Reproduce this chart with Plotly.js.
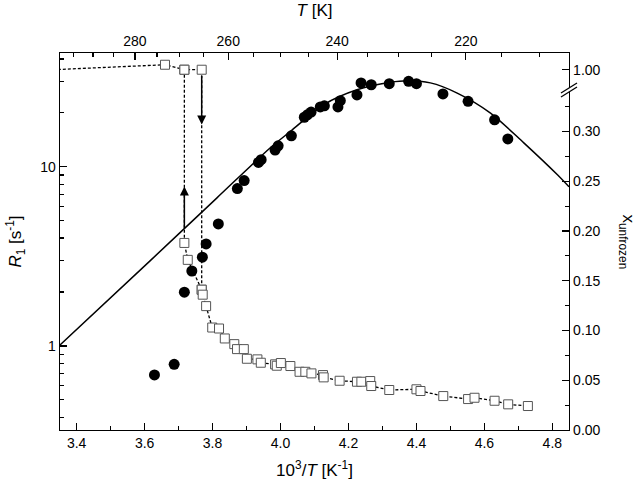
<!DOCTYPE html>
<html>
<head>
<meta charset="utf-8">
<script src="https://cdn.plot.ly/plotly-3.0.1.min.js"></script>
<style>html,body{margin:0;padding:0;background:#fff;}#chart{width:640px;height:489px;}</style>
</head>
<body>
<div id="chart"></div>
<script>
// ---- data: R1 relaxation rates (filled circles, left log axis) ----
const circleX = [3.629, 3.687, 3.717, 3.739, 3.770, 3.781, 3.817, 3.873, 3.893, 3.935, 3.943,
  3.984, 3.993, 4.032, 4.070, 4.079, 4.090, 4.117, 4.129, 4.169, 4.176, 4.225, 4.237,
  4.267, 4.320, 4.377, 4.400, 4.478, 4.552, 4.630, 4.669];
const circleR = [0.689, 0.790, 1.995, 2.62, 3.13, 3.71, 4.80, 7.56, 8.38, 10.57, 10.95,
  12.4, 13.1, 14.9, 18.9, 19.5, 20.2, 21.6, 21.9, 21.6, 23.4, 25.2, 29.4,
  28.7, 29.1, 30.0, 29.1, 25.5, 23.2, 18.3, 14.3];

// ---- fit curve (solid line, left axis) ----
const fitX = [3.351, 3.616, 3.813, 3.970, 4.029, 4.127, 4.225, 4.323, 4.373, 4.441, 4.520, 4.618, 4.716, 4.815, 4.849];
const fitR = [1.013, 2.985, 6.71, 12.77, 15.75, 22.2, 26.9, 29.6, 30.2, 29.4, 25.8, 19.95, 13.6, 9.02, 7.73];

// ---- unfrozen fraction (open squares, right axis) ----
// cooling branch: unfrozen until supercooled, then freezes
const coolX = [3.330, 3.660, 3.717, 3.768, 3.768];
const coolV = [1.000, 1.005, 1.000, 1.000, 0.141];
// heating branch: melts back to fully unfrozen
const heatX = [3.717, 3.717, 3.727, 3.768, 3.771, 3.781, 3.799, 3.819, 3.836, 3.864, 3.872, 3.892,
  3.901, 3.932, 3.942, 3.984, 3.989, 4.001, 4.029, 4.056, 4.073, 4.091, 4.125, 4.127, 4.174,
  4.225, 4.238, 4.264, 4.267, 4.320, 4.400, 4.412, 4.479, 4.552, 4.571, 4.630, 4.670, 4.728];
const heatV = [1.000, 0.188, 0.171, 0.141, 0.136, 0.1245, 0.103, 0.102, 0.092, 0.0863, 0.0813, 0.0813,
  0.0716, 0.071, 0.0676, 0.066, 0.0646, 0.0673, 0.0643, 0.0585, 0.0585, 0.0569, 0.0552, 0.0529, 0.0495,
  0.0485, 0.0485, 0.0492, 0.0442, 0.0402, 0.0409, 0.0392, 0.0341, 0.0311, 0.0324, 0.0294, 0.0258, 0.0241];

// ---- arrows (x, from R, to R) ----
const arrowX = [3.717, 3.768];
const arrowFromR = [4.45, 32.7];
const arrowToR = [7.76, 17.2];

// ---- tick labels ----
const bottomTicks = [3.4, 3.6, 3.8, 4.0, 4.2, 4.4, 4.6, 4.8];
const topMajorT = [280, 260, 240, 220];
const topMinorT = [295, 290, 285, 275, 270, 265, 255, 250, 245, 235, 230, 225, 215, 210];
const leftMajor = [1, 10];
const leftMinor = [0.4, 0.5, 0.6, 0.7, 0.8, 0.9, 2, 3, 4, 5, 6, 7, 8, 9, 20, 30, 40];
const rightMajor = [0.00, 0.05, 0.10, 0.15, 0.20, 0.25, 0.30, 1.00];
const rightMinor = [0.025, 0.075, 0.125, 0.175, 0.225, 0.275, 0.325];

// broken right axis: upper segment (around 1.00) placed just above 0.34
const BREAK_TOP = 0.3621;
function brk(v) { return v >= 0.5 ? BREAK_TOP + (v - 1.0) : v; }

const xRange = [3.351, 4.849];
const font = 'Liberation Sans, Arial, sans-serif';
const tickFont = {family: font, size: 14, color: '#000'};

const squareMarker = {symbol: 'square', size: 9, color: '#fff', line: {color: '#555', width: 1}};
const dashLine = {color: '#000', width: 1.3, dash: '3px,2px'};

const traces = [
  {x: fitX, y: fitR, mode: 'lines', line: {color: '#000', width: 1.5, shape: 'spline', smoothing: 0.8},
   xaxis: 'x', yaxis: 'y', hoverinfo: 'skip'},
  {x: circleX, y: circleR, mode: 'markers', marker: {symbol: 'circle', size: 11, color: '#000'},
   xaxis: 'x', yaxis: 'y'},
  {x: coolX, y: coolV.map(brk), mode: 'lines+markers', line: dashLine, marker: squareMarker,
   xaxis: 'x', yaxis: 'y2', cliponaxis: true},
  {x: heatX, y: heatV.map(brk), mode: 'lines+markers', line: dashLine, marker: squareMarker,
   xaxis: 'x', yaxis: 'y2'},
  {x: xRange, y: [1, 1], mode: 'none', xaxis: 'x2', yaxis: 'y', hoverinfo: 'skip'}
];

const annotations = arrowX.map((x, i) => ({
  x: x, y: Math.log10(arrowToR[i]), ax: x, ay: Math.log10(arrowFromR[i]),
  xref: 'x', yref: 'y', axref: 'x', ayref: 'y',
  showarrow: true, arrowhead: 2, arrowsize: 1.2, arrowwidth: 1.5, arrowcolor: '#000',
  standoff: 0, startstandoff: 0, text: ''
}));
annotations.push({
  text: 'x<sub>unfrozen</sub>', textangle: 90, showarrow: false,
  xref: 'paper', yref: 'paper', x: 1.114, y: 0.5, xanchor: 'center', yanchor: 'middle',
  font: {family: font, size: 17, color: '#000'}
});

// axis break marks on right axis
const bx = 1.0, by = (430 - 90) / 377;
const dx = 8 / 509, dy = 5 / 377, gap = 4 / 377;
const shapes = [
  {type: 'path', xref: 'paper', yref: 'paper', layer: 'above',
   path: `M ${bx - dx} ${by - dy - gap/2} L ${bx + dx} ${by + dy - gap/2} L ${bx + dx} ${by + dy + gap/2} L ${bx - dx} ${by - dy + gap/2} Z`,
   fillcolor: '#fff', line: {width: 0}},
  {type: 'line', xref: 'paper', yref: 'paper', layer: 'above',
   x0: bx - dx, y0: by - dy - gap/2, x1: bx + dx, y1: by + dy - gap/2, line: {color: '#000', width: 1.3}},
  {type: 'line', xref: 'paper', yref: 'paper', layer: 'above',
   x0: bx - dx, y0: by - dy + gap/2, x1: bx + dx, y1: by + dy + gap/2, line: {color: '#000', width: 1.3}}
];

const axisCommon = {showgrid: false, zeroline: false, showline: true, linecolor: '#000', linewidth: 1.3,
  ticks: 'inside', ticklen: 7, tickwidth: 1.2, tickcolor: '#000', tickfont: tickFont, fixedrange: true};

const layout = {
  width: 640, height: 489,
  margin: {l: 60, r: 71, t: 53, b: 59},
  paper_bgcolor: '#fff', plot_bgcolor: '#fff',
  showlegend: false,
  font: {family: font, color: '#000'},
  xaxis: Object.assign({}, axisCommon, {
    range: xRange, tickmode: 'array', tickvals: bottomTicks, ticktext: bottomTicks.map(v => v.toFixed(1)),
    minor: {tickvals: [3.5, 3.7, 3.9, 4.1, 4.3, 4.5, 4.7], ticks: 'inside', ticklen: 4, tickwidth: 1.2, tickcolor: '#000'},
    title: {text: '10<sup>3</sup>/<i>T</i> [K<sup>-1</sup>]', font: {family: font, size: 17, color: '#000'}, standoff: 14}
  }),
  xaxis2: Object.assign({}, axisCommon, {
    overlaying: 'x', side: 'top', range: xRange, anchor: 'y',
    tickmode: 'array', tickvals: topMajorT.map(t => 1000 / t), ticktext: topMajorT.map(String),
    minor: {tickvals: topMinorT.map(t => 1000 / t), ticks: 'inside', ticklen: 4, tickwidth: 1.2, tickcolor: '#000'},
    title: {text: '<i>T</i> [K]', font: {family: font, size: 17, color: '#000'}, standoff: 12}
  }),
  yaxis: Object.assign({}, axisCommon, {
    type: 'log', range: [-0.4693, 1.6352], tickmode: 'array', tickvals: leftMajor, ticktext: leftMajor.map(String),
    minor: {tickvals: leftMinor, ticks: 'inside', ticklen: 4, tickwidth: 1.2, tickcolor: '#000'},
    title: {text: '<i>R</i><sub>1</sub> [s<sup>-1</sup>]', font: {family: font, size: 17, color: '#000'}, standoff: 14}
  }),
  yaxis2: Object.assign({}, axisCommon, {
    overlaying: 'y', side: 'right', range: [0, 0.3789], anchor: 'x',
    tickmode: 'array', tickvals: rightMajor.map(brk), ticktext: rightMajor.map(v => v.toFixed(2)),
    minor: {tickvals: rightMinor, ticks: 'inside', ticklen: 4, tickwidth: 1.2, tickcolor: '#000'}
  }),
  annotations: annotations,
  shapes: shapes
};

Plotly.newPlot('chart', traces, layout, {displayModeBar: false, staticPlot: true});
</script>
</body>
</html>
